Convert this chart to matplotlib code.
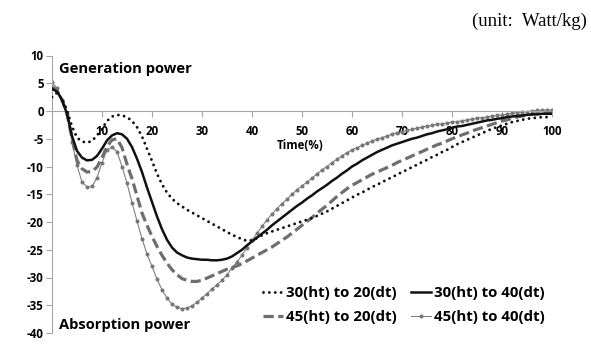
import numpy as np
import matplotlib
matplotlib.use("Agg")
import matplotlib.pyplot as plt

plt.rcParams['axes.unicode_minus'] = False
plt.rcParams['font.family'] = ['Open Sans', 'DejaVu Sans']

time_pct = list(range(0, 101))

s30_20 = [2.5, 3.3, 2.2, 0.2, -2.8, -4.8, -5.5, -5.7, -5.4, -4.4,
          -3.2, -1.8, -1.0, -0.7, -0.8, -1.1, -1.8, -2.9, -4.6, -6.8,
          -9.0, -11.3, -13.2, -14.7, -15.8, -16.6, -17.2, -17.8, -18.3, -18.8,
          -19.3, -19.8, -20.3, -20.8, -21.3, -21.8, -22.3, -22.7, -23.1, -23.4,
          -23.3, -22.9, -22.4, -22.0, -21.7, -21.4, -21.1, -20.8, -20.5, -20.2,
          -19.9, -19.6, -19.3, -18.9, -18.5, -18.1, -17.6, -17.1, -16.6, -16.1,
          -15.6, -15.1, -14.7, -14.2, -13.7, -13.3, -12.8, -12.4, -11.9, -11.5,
          -11.0, -10.6, -10.1, -9.7, -9.2, -8.8, -8.3, -7.9, -7.4, -7.0,
          -6.5, -6.0, -5.6, -5.2, -4.8, -4.4, -4.0, -3.6, -3.2, -2.9,
          -2.6, -2.3, -2.0, -1.8, -1.6, -1.4, -1.3, -1.2, -1.1, -1.1, -1.1]

s30_40 = [4.0, 3.5, 2.0, -0.5, -4.5, -7.2, -8.4, -8.9, -8.8, -8.1,
          -6.8, -5.3, -4.4, -4.0, -4.2, -5.0, -6.5, -8.6, -11.0, -13.8,
          -16.4, -19.0, -21.3, -23.2, -24.6, -25.5, -26.0, -26.4, -26.6, -26.7,
          -26.8, -26.8, -26.9, -26.9, -26.8, -26.6, -26.2, -25.6, -25.0, -24.2,
          -23.5, -22.8, -22.1, -21.4, -20.6, -19.9, -19.2, -18.5, -17.8, -17.1,
          -16.5, -15.8, -15.2, -14.5, -13.9, -13.3, -12.6, -12.0, -11.3, -10.7,
          -10.0, -9.5, -8.9, -8.4, -7.9, -7.4, -7.0, -6.6, -6.2, -5.9,
          -5.6, -5.3, -5.0, -4.8, -4.5, -4.2, -4.0, -3.7, -3.5, -3.3,
          -3.0, -2.8, -2.7, -2.5, -2.3, -2.1, -1.9, -1.7, -1.6, -1.4,
          -1.3, -1.1, -1.0, -0.9, -0.8, -0.7, -0.6, -0.6, -0.5, -0.5, -0.5]

s45_20 = [4.4, 3.7, 2.0, -0.5, -5.0, -8.9, -10.4, -11.0, -10.9, -10.1,
          -8.4, -6.4, -5.2, -5.0, -6.6, -9.6, -12.2, -15.3, -18.4, -20.6,
          -22.6, -24.4, -26.0, -27.4, -28.6, -29.5, -30.2, -30.5, -30.7, -30.7,
          -30.5, -30.1, -29.7, -29.3, -28.9, -28.5, -28.2, -27.9, -27.5, -27.0,
          -26.5, -26.0, -25.5, -25.0, -24.5, -23.9, -23.3, -22.7, -22.0, -21.3,
          -20.6, -19.9, -19.2, -18.4, -17.7, -17.0, -16.2, -15.4, -14.7, -14.0,
          -13.4, -12.9, -12.4, -11.9, -11.4, -11.0, -10.6, -10.2, -9.8, -9.3,
          -8.9, -8.5, -8.1, -7.7, -7.3, -6.9, -6.5, -6.1, -5.8, -5.4,
          -5.0, -4.7, -4.3, -4.0, -3.6, -3.3, -3.0, -2.7, -2.4, -2.1,
          -1.8, -1.6, -1.3, -1.1, -0.9, -0.8, -0.6, -0.5, -0.5, -0.4, -0.4]

s45_40 = [5.2, 4.1, 2.0, -0.6, -5.5, -9.8, -12.8, -13.7, -13.6, -12.0,
          -9.3, -7.0, -6.5, -7.3, -10.0, -13.0, -16.5, -19.8, -23.0, -25.8,
          -28.0, -30.3, -32.2, -33.7, -34.8, -35.4, -35.6, -35.5, -35.1, -34.5,
          -33.7, -32.9, -32.1, -31.3, -30.5, -29.5, -28.3, -27.2, -26.0, -24.6,
          -23.3, -22.0, -20.8, -19.6, -18.6, -17.6, -16.7, -15.9, -15.0, -14.2,
          -13.5, -12.8, -12.1, -11.3, -10.6, -10.0, -9.3, -8.7, -8.1, -7.5,
          -7.0, -6.6, -6.2, -5.8, -5.4, -5.1, -4.8, -4.5, -4.2, -3.9,
          -3.7, -3.5, -3.3, -3.1, -2.9, -2.7, -2.6, -2.4, -2.3, -2.2,
          -2.0, -1.9, -1.8, -1.6, -1.5, -1.3, -1.2, -1.1, -0.9, -0.8,
          -0.7, -0.6, -0.4, -0.3, -0.2, -0.1, 0.0, 0.1, 0.1, 0.2, 0.2]

labels = ["30(ht) to 20(dt)", "30(ht) to 40(dt)", "45(ht) to 20(dt)", "45(ht) to 40(dt)"]
x_ticks = [10, 20, 30, 40, 50, 60, 70, 80, 90, 100]
y_ticks = [-40, -35, -30, -25, -20, -15, -10, -5, 0, 5, 10]

fig = plt.figure(figsize=(5.91, 3.45), dpi=100)
ax = fig.add_axes([52 / 591, 12 / 345, 500 / 591, 277.5 / 345])

l_mark, = ax.plot(time_pct, s45_40, color='#808080', lw=0.8, marker='o',
                  markersize=2.9, markeredgewidth=0, markerfacecolor='#777777', zorder=2)
l_dash, = ax.plot(time_pct, s45_20, color='#6e6e6e', lw=2.3,
                  linestyle=(0, (3.2, 1.4)), zorder=3)
l_solid, = ax.plot(time_pct, s30_40, color='#111111', lw=1.8, zorder=4)
l_dot, = ax.plot(time_pct, s30_20, color='#111111', lw=2.1,
                 linestyle=(0, (0.01, 2.0)), dash_capstyle='round', zorder=5)

ax.set_xlim(0, 100)
ax.set_ylim(-40, 10)
for s in ['top', 'right']:
    ax.spines[s].set_visible(False)
ax.spines['bottom'].set_position(('data', 0))
ax.spines['bottom'].set_color('#a6a6a6')
ax.spines['left'].set_color('#a6a6a6')

ax.set_xticks(x_ticks)
ax.set_yticks(y_ticks)
ax.set_yticklabels([str(v) for v in y_ticks])
ax.tick_params(axis='x', direction='out', length=4, color='#a6a6a6', pad=6,
               labelsize=8.3)
ax.tick_params(axis='y', direction='out', length=4, color='#a6a6a6', pad=2,
               labelsize=8.3)
for t in ax.get_xticklabels() + ax.get_yticklabels():
    t.set_fontweight('bold')

ax.text(1.4, 7.6, "Generation power", fontsize=10.6, fontweight='bold',
        ha='left', va='center')
ax.text(1.4, -38.6, "Absorption power", fontsize=10.6, fontweight='bold',
        ha='left', va='center', clip_on=False)
ax.text(49.6, -6.3, "Time(%)", fontsize=8.3, fontweight='bold',
        ha='center', va='center')

fig.text(587 / 591, 1 - 21 / 345, "(unit:  Watt/kg)", family='Liberation Serif',
         fontsize=13.5, ha='right', va='center')

leg = ax.legend([l_dot, l_dash, l_solid, l_mark],
                [labels[0], labels[2], labels[1], labels[3]],
                ncol=2, frameon=False, loc='upper left',
                bbox_to_anchor=(263 / 591, 1 - 286 / 345),
                bbox_transform=fig.transFigure,
                prop={'weight': 'bold', 'size': 10.8},
                handlelength=1.35, handletextpad=0.2, columnspacing=0.9,
                labelspacing=0.65, borderpad=0, borderaxespad=0, numpoints=1)

fig.savefig("out.png", dpi=100)
